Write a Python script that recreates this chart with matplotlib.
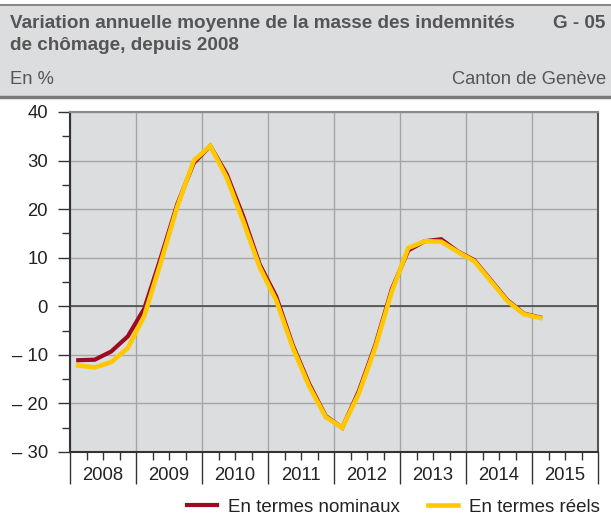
import numpy as np
import matplotlib.pyplot as plt
from matplotlib.patches import Rectangle
from matplotlib.lines import Line2D
import matplotlib.transforms as mtransforms

plt.rcParams['font.family'] = ['Liberation Sans', 'DejaVu Sans']

# quarterly values, 2008 Q1 .. 2015 Q1
nominal = [-11.1, -11.0, -9.3, -6.2, -0.5, 10.0, 21.0, 29.5, 33.0, 27.2,
           18.5, 8.6, 2.0, -8.0, -16.0, -22.6, -25.0, -17.5, -8.0, 3.5,
           11.5, 13.4, 13.8, 11.3, 9.5, 5.4, 1.3, -1.5, -2.3]
real = [-12.2, -12.6, -11.5, -8.6, -2.0, 9.0, 20.5, 30.0, 33.0, 26.5,
        17.5, 8.0, 1.2, -8.5, -16.5, -22.8, -25.0, -18.0, -8.5, 3.0,
        12.0, 13.4, 13.3, 11.2, 9.3, 5.2, 1.1, -1.6, -2.4]
years = ['2008', '2009', '2010', '2011', '2012', '2013', '2014', '2015']
yticks = [40, 30, 20, 10, 0, -10, -20, -30]

W, H = 611, 515
fig = plt.figure(figsize=(W / 100, H / 100), dpi=100)

# header band
fig.patches.append(Rectangle((0, 1 - 97 / H), 1, 92 / H, transform=fig.transFigure,
                             facecolor='#dcdddf', edgecolor='none', zorder=0))
fig.add_artist(Line2D([0, 1], [1 - 5 / H, 1 - 5 / H], transform=fig.transFigure,
                      color='#8a8a8a', lw=1.5))
fig.add_artist(Line2D([0, 1], [1 - 97 / H, 1 - 97 / H], transform=fig.transFigure,
                      color='#7a7a7a', lw=2.5))
tc = '#555555'
fig.text(10 / W, 1 - 24 / H, 'Variation annuelle moyenne de la masse des indemnités',
         fontsize=13.6, fontweight='bold', color=tc, va='center')
fig.text(10 / W, 1 - 45 / H, 'de chômage, depuis 2008',
         fontsize=13.6, fontweight='bold', color=tc, va='center')
fig.text(605 / W, 1 - 24 / H, 'G - 05', fontsize=13.6, fontweight='bold',
         color=tc, va='center', ha='right')
fig.text(10 / W, 1 - 80 / H, 'En %', fontsize=13.2, color=tc, va='center')
fig.text(606 / W, 1 - 80 / H, 'Canton de Genève', fontsize=13.2, color=tc,
         va='center', ha='right')

ax = fig.add_axes([70 / W, 1 - 452 / H, 528 / W, 340 / H])
ax.set_facecolor('#dcdddf')

x = np.arange(len(nominal)) + 0.5
ax.plot(x, nominal, color='#9d0b22', lw=3.0, solid_joinstyle='miter', zorder=3)
ax.plot(x, real, color='#ffc800', lw=3.3, solid_joinstyle='miter', zorder=4)
ax.axhline(0, color='#4a4a4a', lw=1.2, zorder=2)

ax.set_xlim(0, 4 * len(years))
ax.set_ylim(-30, 40)
ax.set_yticks(yticks)
ax.set_yticklabels([str(v) if v >= 0 else '– ' + str(-v) for v in yticks])
ax.set_yticks(np.arange(-25, 40, 10), minor=True)
ax.set_xticks(np.arange(0, 4 * len(years) + 1, 4))
ax.set_xticklabels([])
ax.set_xticks(np.arange(0, 4 * len(years) + 1, 1), minor=True)

ax.grid(True, which='major', color='#a5a5a5', lw=1.0, zorder=1)
ax.set_axisbelow(True)

ax.tick_params(axis='y', which='major', length=9, width=1, color='#333333',
               labelsize=13.3, labelcolor='#222222', pad=7)
ax.tick_params(axis='y', which='minor', length=6, width=1, color='#333333')
ax.tick_params(axis='x', which='major', length=23, width=1, color='#333333')
ax.tick_params(axis='x', which='minor', length=6, width=1, color='#333333')

for s in ['left', 'bottom']:
    ax.spines[s].set_color('#333333')
    ax.spines[s].set_linewidth(1.5)
ax.spines['right'].set_color('#555555')
ax.spines['right'].set_linewidth(1.5)
ax.spines['top'].set_color('#8a8a8a')
ax.spines['top'].set_linewidth(1.5)

trans = mtransforms.blended_transform_factory(ax.transData, ax.transAxes)
for i, yr in enumerate(years):
    ax.text(4 * i + 2, -24 / 340, yr, transform=trans, ha='center', va='center',
            fontsize=13.3, color='#222222')

handles = [Line2D([], [], color='#9d0b22', lw=3.0),
           Line2D([], [], color='#ffc800', lw=3.3)]
fig.legend(handles, ['En termes nominaux', 'En termes réels'], loc='center right',
           bbox_to_anchor=(600 / W, 1 - 507 / H), ncol=2, frameon=False,
           fontsize=13.5, handlelength=1.6, columnspacing=1.5, handletextpad=0.6,
           borderpad=0, borderaxespad=0, labelcolor='#222222')

fig.savefig('out.png', dpi=100)
